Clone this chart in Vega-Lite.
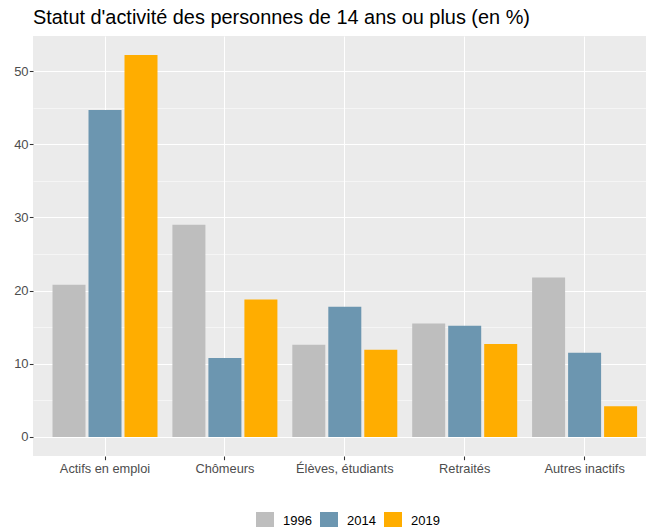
{
  "$schema": "https://vega.github.io/schema/vega-lite/v6.json",
  "autosize": {"type": "none"},
  "padding": {"left": 33, "top": 36, "right": 0, "bottom": 71},
  "width": 613,
  "height": 420,
  "background": "white",
  "title": {
    "text": "Statut d'activité des personnes de 14 ans ou plus (en %)",
    "anchor": "start",
    "frame": "group",
    "font": "Liberation Sans",
    "fontSize": 19.9,
    "fontWeight": "normal",
    "color": "#000000",
    "baseline": "alphabetic",
    "offset": 10,
    "dy": 18
  },
  "data": {
    "values": [
      {"statut": "Actifs en emploi", "annee": "1996", "pct": 20.8},
      {"statut": "Actifs en emploi", "annee": "2014", "pct": 44.7},
      {"statut": "Actifs en emploi", "annee": "2019", "pct": 52.2},
      {"statut": "Chômeurs", "annee": "1996", "pct": 29.0},
      {"statut": "Chômeurs", "annee": "2014", "pct": 10.8},
      {"statut": "Chômeurs", "annee": "2019", "pct": 18.8},
      {"statut": "Élèves, étudiants", "annee": "1996", "pct": 12.6},
      {"statut": "Élèves, étudiants", "annee": "2014", "pct": 17.8},
      {"statut": "Élèves, étudiants", "annee": "2019", "pct": 11.9},
      {"statut": "Retraités", "annee": "1996", "pct": 15.5},
      {"statut": "Retraités", "annee": "2014", "pct": 15.2},
      {"statut": "Retraités", "annee": "2019", "pct": 12.7},
      {"statut": "Autres inactifs", "annee": "1996", "pct": 21.8},
      {"statut": "Autres inactifs", "annee": "2014", "pct": 11.5},
      {"statut": "Autres inactifs", "annee": "2019", "pct": 4.2}
    ]
  },
  "mark": {"type": "bar"},
  "encoding": {
    "x": {
      "field": "statut",
      "type": "nominal",
      "sort": ["Actifs en emploi", "Chômeurs", "Élèves, étudiants", "Retraités", "Autres inactifs"],
      "scale": {"paddingInner": 0, "paddingOuter": 0.0563, "align": 0.893},
      "axis": {
        "title": null,
        "labelAngle": 0,
        "domain": false,
        "grid": true,
        "gridColor": "#FFFFFF",
        "gridWidth": 1.07,
        "tickColor": "#333333",
        "tickSize": 3.7,
        "tickWidth": 1.07,
        "labelPadding": 2.5,
        "labelFont": "Liberation Sans",
        "labelFontSize": 12.8,
        "labelColor": "#4D4D4D"
      }
    },
    "xOffset": {
      "field": "annee",
      "type": "nominal",
      "scale": {"paddingInner": 0.0833, "paddingOuter": 0.207}
    },
    "y": {
      "field": "pct",
      "type": "quantitative",
      "scale": {"domain": [-2.61, 54.81], "nice": false, "zero": false},
      "axis": {
        "title": null,
        "values": [0, 5, 10, 15, 20, 25, 30, 35, 40, 45, 50],
        "labelExpr": "datum.value % 10 === 0 ? datum.label : ''",
        "domain": false,
        "grid": true,
        "gridColor": "#FFFFFF",
        "gridWidth": {"condition": {"test": "datum.value % 10 !== 0", "value": 0.53}, "value": 1.07},
        "tickOpacity": {"condition": {"test": "datum.value % 10 !== 0", "value": 0}, "value": 1},
        "tickColor": "#333333",
        "tickSize": 3.7,
        "tickWidth": 1.07,
        "labelPadding": 1.2,
        "labelFont": "Liberation Sans",
        "labelFontSize": 13,
        "labelColor": "#4D4D4D"
      }
    },
    "color": {
      "field": "annee",
      "type": "nominal",
      "scale": {"domain": ["1996", "2014", "2019"], "range": ["#BEBEBE", "#6C96B0", "#FFAD00"]},
      "legend": {
        "title": null,
        "orient": "none",
        "direction": "horizontal",
        "legendX": 223,
        "legendY": 476,
        "padding": 0,
        "symbolType": "square",
        "symbolSize": 324,
        "symbolStrokeWidth": 0,
        "symbolOpacity": 1,
        "labelOffset": 9,
        "columnPadding": 8,
        "labelFont": "Liberation Sans",
        "labelFontSize": 13,
        "labelColor": "#000000"
      }
    }
  },
  "config": {
    "view": {"fill": "#EBEBEB", "stroke": null}
  }
}
